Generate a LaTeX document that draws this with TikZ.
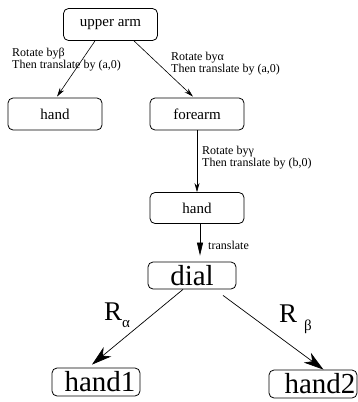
\documentclass[tikz,border=0pt]{standalone}
\usepackage{fontspec}
\setmainfont{Liberation Serif}
\usetikzlibrary{arrows.meta,calc}
\begin{document}
\begin{tikzpicture}[x=1pt,y=-1pt,
  box/.style={draw,line width=0.8pt,rounded corners=5pt,inner sep=0pt},
  smallbox/.style={box,minimum width=94pt,minimum height=32pt,font=\fontsize{15}{15}\selectfont},
  bigbox/.style={box,minimum width=88pt,minimum height=28pt,font=\fontsize{29}{29}\selectfont},
  lbl/.style={inner sep=0pt,anchor=base west,align=left,font=\fontsize{12}{12}\selectfont},
  rlbl/.style={inner sep=0pt,anchor=base west,font=\fontsize{27}{27}\selectfont},
  thin/.style={-{Stealth[length=9pt,width=5pt]},line width=0.6pt},
  thick/.style={-{Stealth[length=20pt,width=12pt,inset=6pt]},line width=0.7pt}]
\useasboundingbox (0,0) rectangle (357,402);
\node[smallbox] (ua) at (110.5,24.5) {upper arm};
\node[smallbox] (hl) at (55,114) {hand};
\node[smallbox] (fa) at (197,114) {forearm};
\node[smallbox,minimum height=31pt] (hm) at (197,208) {hand};
\node[bigbox,minimum height=27pt] (dial) at (192,275.5) {dial\hspace{12pt}};
\node[bigbox] (h1) at (96,382) {\hspace{8pt}\raisebox{2pt}{hand1}};
\node[bigbox] (h2) at (313,384) {\hspace{14pt}\raisebox{-5pt}{hand2}};
\draw[thin] ($(ua.south)+(-15.5,0)$) -- ($(hl.north)+(2,-1)$);
\draw[thin] ($(ua.south)+(23.5,0)$) -- ($(fa.north)+(-4,-1)$);
\draw[thin] (fa.south) -- (hm.north);
\draw[-{Triangle[length=13pt,width=6pt]},line width=0.7pt] ($(hm.south)+(3,0)$) -- ($(dial.north)+(8,-6)$);
\draw[thick] ($(dial.south)+(-9,0)$) -- ($(h1.north)+(-4,-3)$);
\draw[thick] ($(dial.south)+(31,6)$) -- ($(h2.north)+(10.5,0)$);
\node[lbl] (l1) at (12,68) {Rotate byβ\\Then translate by (a,0)};
\node[lbl] (l2) at (171,72) {Rotate byα\\Then translate by (a,0)};
\node[lbl] (l3) at (202,166) {Rotate byγ\\Then translate by (b,0)};
\node[lbl] (l4) at (208,249) {translate};
\node[rlbl] (ra) at (104,320) {R\raisebox{-7pt}{\fontsize{15}{15}\selectfont α}};
\node[rlbl] (rb) at (279,322) {R\hspace{7pt}\raisebox{-8pt}{\fontsize{15}{15}\selectfont β}};
\end{tikzpicture}
\end{document}
